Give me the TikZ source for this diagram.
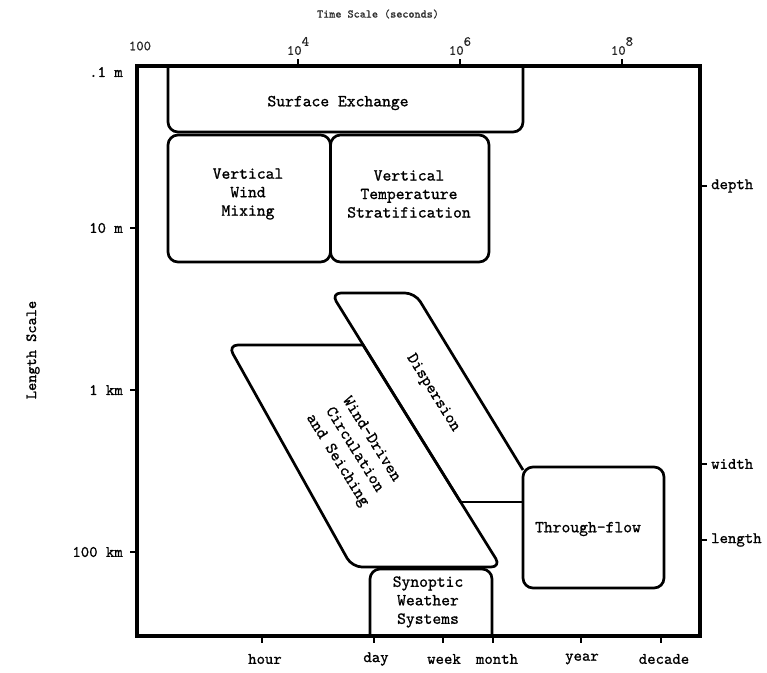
\documentclass[tikz,border=0pt]{standalone}
\usepackage{fontspec}
\setmainfont[FakeBold=1]{lmmono10-regular.otf}
\usetikzlibrary{positioning}

\begin{document}
\begin{tikzpicture}[x=1pt, y=-1pt,
    frame/.style={line width=3.6pt},
    region/.style={line width=2.7pt, rounded corners=10pt, line join=round},
    tick/.style={line width=2.6pt},
    proc/.style={font=\fontsize{16.8}{18.5}\selectfont, align=center, inner sep=0pt},
    axis/.style={font=\fontsize{16}{18}\selectfont, inner sep=0pt},
    toplab/.style={font=\fontsize{14}{14}\selectfont, text=black!85, inner sep=0pt}
]
\useasboundingbox (0,0) rectangle (767,672);

% outer frame
\draw[frame] (137,66) rectangle (700,636);

% ticks on the four sides
\draw[tick] (298,66) -- (298,59);
\draw[tick] (460,66) -- (460,59);
\draw[tick] (622,66) -- (622,59);
\draw[tick] (137,228) -- (130,228);
\draw[tick] (137,390) -- (130,390);
\draw[tick] (137,552) -- (130,552);
\draw[tick] (700,186) -- (707,186);
\draw[tick] (700,464) -- (707,464);
\draw[tick] (700,540) -- (707,540);
\draw[tick] (262,636) -- (262,643);
\draw[tick] (374,636) -- (374,643);
\draw[tick] (443,636) -- (443,643);
\draw[tick] (493,636) -- (493,643);
\draw[tick] (581,636) -- (581,643);
\draw[tick] (661,636) -- (661,643);

% process regions
\draw[region] (168,66) -- (168,132) -- (523,132) -- (523,66);
\draw[region] (168,135) rectangle (330.5,262);
\draw[region] (330.5,135) rectangle (489,262);
\draw[region] (460.6,502) -- (331,293) -- (415,293) -- (523,470);
\draw[region] (460.6,502) -- (523,502);
\draw[region] (363,345) -- (228,345) -- (352,567) -- (501,567) -- (363,345);
\draw[region] (523,467) rectangle (664,588);
\draw[region] (370,636) -- (370,569) -- (492,569) -- (492,636);

\node[proc] (surface) at (338,103) {Surface Exchange};
\node[proc] (mixing) at (248,194) {Vertical\\Wind\\Mixing};
\node[proc] (strat) at (409,194) {Vertical\\Temperature\\Stratification};
\node[proc, rotate=-58] (dispersion) at (433,393) {Dispersion};
\node[proc, rotate=-58, font=\fontsize{16.8}{20}\selectfont] (winddriven) at (354,450) {Wind-Driven\\Circulation\\and Seiching};
\node[proc] (throughflow) at (588,529) {Through-flow};
\node[proc] (synoptic) at (428,602) {Synoptic\\Weather\\Systems};

% axis labels
\node[font=\fontsize{11.6}{13}\selectfont, text=black!80] (timescale) at (378,14) {Time Scale (seconds)};
\node[toplab] (e2) at (140,46) {100};
\node[toplab] (e4) at (298,46) {10\raisebox{9pt}{4}};
\node[toplab] (e6) at (460,46) {10\raisebox{9pt}{6}};
\node[toplab] (e8) at (622,46) {10\raisebox{9pt}{8}};

\node[font=\fontsize{15.6}{17}\selectfont, rotate=90] (lengthscale) at (33,350) {Length Scale};
\node[axis, anchor=east] (m01) at (123,72) {.1 m};
\node[axis, anchor=east] (m10) at (123,228) {10 m};
\node[axis, anchor=east] (km1) at (123,390) {1 km};
\node[axis, anchor=east] (km100) at (123,552) {100 km};

\node[axis, anchor=west] (depth) at (711,186) {depth};
\node[axis, anchor=west] (width) at (711,464) {width};
\node[axis, anchor=west] (length) at (711,540) {length};

\node[axis] (hour) at (265,659) {hour};
\node[axis] (day) at (376,659) {day};
\node[axis] (week) at (444,659) {week};
\node[axis] (month) at (497,659) {month};
\node[axis] (year) at (582,659) {year};
\node[axis] (decade) at (664,659) {decade};
\end{tikzpicture}
\end{document}
